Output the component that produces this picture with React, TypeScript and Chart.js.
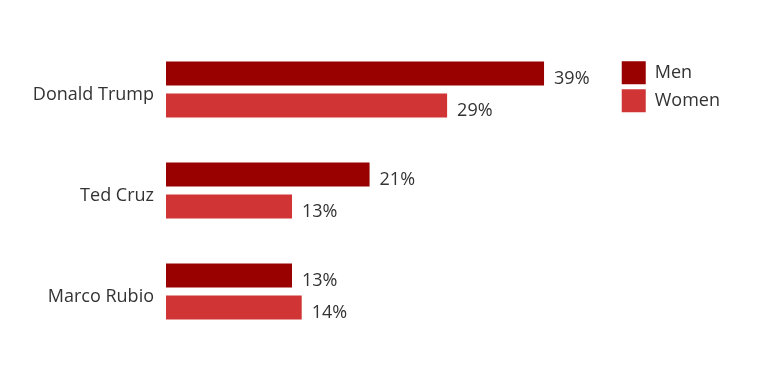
import React, { useEffect, useRef } from "react";
import { Chart, registerables } from "chart.js";

Chart.register(...registerables);

const categories = ["Donald Trump", "Ted Cruz", "Marco Rubio"];
const menValues = [39, 21, 13];
const womenValues = [29, 13, 14];
const seriesNames = ["Men", "Women"];

const FONT = "'Open Sans', Lato, sans-serif";
const TEXT = "#333333";

const valueLabels = {
  id: "valueLabels",
  afterDatasetsDraw(chart: any) {
    const ctx = chart.ctx;
    ctx.save();
    ctx.font = `18px ${FONT}`;
    ctx.fillStyle = TEXT;
    ctx.textAlign = "left";
    ctx.textBaseline = "middle";
    chart.data.datasets.forEach((ds: any, di: number) => {
      const meta = chart.getDatasetMeta(di);
      meta.data.forEach((bar: any, i: number) => {
        ctx.fillText(`${ds.data[i]}%`, bar.x + 10, bar.y + 5);
      });
    });
    ctx.restore();
  },
};

export default function App() {
  const ref = useRef<HTMLCanvasElement>(null);
  useEffect(() => {
    if (!ref.current) return;
    const chart = new Chart(ref.current, {
      type: "bar",
      data: {
        labels: categories,
        datasets: [
          { label: seriesNames[0], data: menValues, backgroundColor: "#990000" },
          { label: seriesNames[1], data: womenValues, backgroundColor: "#d03434" },
        ],
      },
      options: {
        indexAxis: "y",
        animation: false,
        responsive: true,
        maintainAspectRatio: false,
        layout: { padding: { top: 31, bottom: 19, left: 0, right: 22 } },
        datasets: { bar: { categoryPercentage: 0.634, barPercentage: 0.75 } },
        scales: {
          x: { display: false, min: 0, max: 46.5 },
          y: {
            grid: { display: false },
            border: { display: false },
            ticks: { color: TEXT, font: { family: FONT, size: 18 }, padding: 4, labelOffset: 5 },
            afterFit(scale: any) {
              scale.width = 158;
            },
          },
        },
        plugins: {
          legend: {
            position: "right",
            align: "start",
            title: { display: true, text: " ", font: { size: 1 }, padding: { top: 16, bottom: 0 } },
            labels: {
              boxWidth: 24,
              boxHeight: 23,
              color: TEXT,
              font: { family: FONT, size: 18 },
              padding: 5,
            },
          },
          tooltip: { enabled: false },
        },
      },
      plugins: [valueLabels],
    });
    return () => chart.destroy();
  }, []);
  return (
    <div style={{ width: 744, height: 353, position: "relative" }}>
      <canvas ref={ref} />
    </div>
  );
}
